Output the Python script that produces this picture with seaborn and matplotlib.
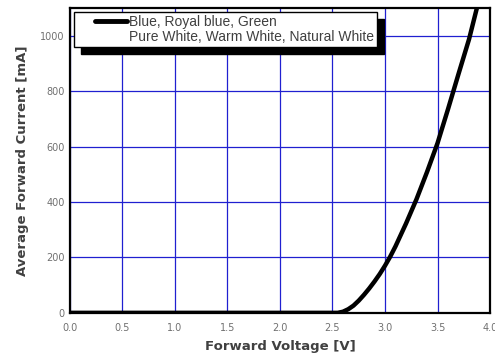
import numpy as np
import matplotlib
matplotlib.use("Agg")
import matplotlib.pyplot as plt
from matplotlib.lines import Line2D
from matplotlib.legend_handler import HandlerLine2D
import pandas as pd
import seaborn as sns

# I-V curve
voltage = [0.0, 2.5, 2.55, 2.6, 2.65, 2.7, 2.75, 2.8, 2.85, 2.9, 2.95, 3.0, 3.05, 3.1,
           3.2, 3.3, 3.4, 3.5, 3.6, 3.7, 3.8, 3.875]
current = [0, 0, 0, 4, 13, 26, 44, 65, 88, 113, 140, 170, 203, 240,
           322, 410, 508, 612, 735, 862, 987, 1100]
legend_lines = ["Blue, Royal blue, Green", "Pure White, Warm White, Natural White"]
x_ticks = np.arange(0, 4.01, 0.5)
y_ticks = [0, 200, 400, 600, 800, 1000]

df = pd.DataFrame({"V": voltage, "I": current})


class ShortHandle(HandlerLine2D):
    # line sample pushed to the right of its box, like the original
    def get_xdata(self, legend, xdescent, ydescent, width, height, fontsize):
        x = np.array([-xdescent + 0.36 * width, -xdescent + width])
        return x, x


sns.set_style("white")
fig = plt.figure(figsize=(4.95, 3.6), dpi=100)
ax = fig.add_axes([0.141, 0.131, 0.849, 0.847])

ax.grid(True, color="#2020d0", linewidth=0.9)
ax.set_axisbelow(True)
sns.lineplot(data=df, x="V", y="I", ax=ax, color="black", linewidth=3.2)

ax.set_xlim(0, 4.0)
ax.set_ylim(0, 1100)
ax.set_xticks(x_ticks)
ax.set_xticklabels([f"{t:.1f}" for t in x_ticks])
ax.set_yticks(y_ticks)
ax.set_xticks(np.arange(0, 4.01, 0.25), minor=True)
ax.set_yticks(np.arange(0, 1101, 100), minor=True)
ax.tick_params(which="major", direction="in", length=4, width=1, colors="black",
               labelcolor="#707070", labelsize=7)
ax.tick_params(axis="x", which="major", pad=7)
ax.tick_params(which="minor", direction="in", length=2, width=1, colors="black")
for s in ax.spines.values():
    s.set_color("black")
    s.set_linewidth(1.6)

ax.set_xlabel("Forward Voltage [V]", fontsize=9.5, fontweight="bold", color="#404040", labelpad=5)
ax.set_ylabel("Average Forward Current [mA]", fontsize=9.5, fontweight="bold", color="#404040",
              labelpad=8)

line_h = Line2D([], [], color="black", linewidth=3.5)
handles = [line_h, Line2D([], [], color="none")]
leg = ax.legend(handles, legend_lines, loc="upper left", bbox_to_anchor=(0.0, 1.0),
                prop={"family": "Liberation Sans", "size": 10}, frameon=True, fancybox=False,
                shadow={"color": "black", "alpha": 1, "ox": 5, "oy": -5},
                framealpha=1, edgecolor="black", handlelength=3.6, handletextpad=0.15,
                labelspacing=0.1, borderpad=0.2, borderaxespad=0.3,
                handler_map={line_h: ShortHandle()})
leg.get_frame().set_linewidth(1.0)
for t in leg.get_texts():
    t.set_color("#404040")

fig.savefig("out.png", dpi=100)
